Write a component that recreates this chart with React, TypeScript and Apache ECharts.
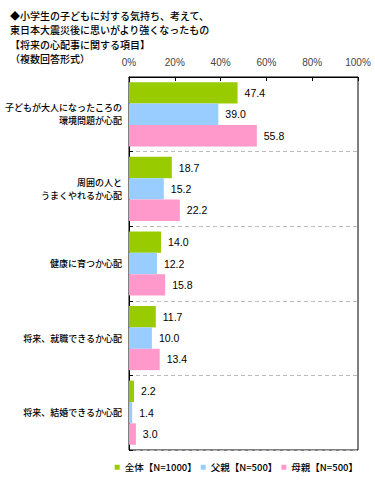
import React, { useEffect, useRef } from "react";
import * as echarts from "echarts";

const titleLines = [
  "◆小学生の子どもに対する気持ち、考えて、",
  "東日本大震災後に思いがより強くなったもの",
  "【将来の心配事に関する項目】",
  "（複数回答形式）",
];
const categories = [
  "子どもが大人になったころの\n環境問題が心配",
  "周囲の人と\nうまくやれるか心配",
  "健康に育つか心配",
  "将来、就職できるか心配",
  "将来、結婚できるか心配",
];
const seriesNames = ["全体【N=1000】", "父親【N=500】", "母親【N=500】"];
const allValues = [47.4, 18.7, 14.0, 11.7, 2.2];
const fatherValues = [39.0, 15.2, 12.2, 10.0, 1.4];
const motherValues = [55.8, 22.2, 15.8, 13.4, 3.0];
const colors = ["#99CC00", "#99CCFF", "#FF99CC"];

const FONT = '"Noto Sans CJK JP", "Noto Sans", sans-serif';

export default function App() {
  const ref = useRef<HTMLDivElement>(null);
  useEffect(() => {
    if (!ref.current) return;
    const chart = echarts.init(ref.current, null, { renderer: "svg" });
    const data = [allValues, fatherValues, motherValues];
    chart.setOption({
      animation: false,
      title: {
        text: titleLines.join("\n"),
        left: 5,
        top: 3,
        textStyle: {
          fontSize: 10,
          lineHeight: 14.5,
          fontWeight: 500,
          color: "#000",
          fontFamily: FONT,
        },
      },
      legend: {
        bottom: 12,
        right: 12,
        itemWidth: 5,
        itemHeight: 5,
        itemGap: 4,
        icon: "rect",
        textStyle: { fontSize: 9.5, color: "#000", fontFamily: FONT, fontWeight: 500 },
        data: seriesNames,
      },
      grid: {
        left: 129,
        right: 17,
        top: 77,
        bottom: 39,
        show: true,
        borderColor: "#000",
        borderWidth: 1,
        containLabel: false,
      },
      xAxis: {
        type: "value",
        position: "top",
        min: 0,
        max: 100,
        interval: 20,
        axisLine: { show: true, lineStyle: { color: "#000" } },
        axisTick: { show: true, inside: true, length: 4, lineStyle: { color: "#000" } },
        splitLine: { show: false },
        axisLabel: {
          formatter: "{value}%",
          fontSize: 10,
          color: "#444",
          margin: 10,
          fontFamily: "Liberation Sans, Arial, sans-serif",
        },
      },
      yAxis: {
        type: "category",
        inverse: true,
        data: categories,
        axisLine: { show: true, lineStyle: { color: "#000" } },
        axisTick: { show: true, inside: true, length: 4, lineStyle: { color: "#000" } },
        splitLine: { show: true, lineStyle: { color: "#bbb", type: [4, 3] } },
        axisLabel: {
          fontSize: 9,
          lineHeight: 13,
          color: "#000",
          fontWeight: 500,
          margin: 7,
          fontFamily: FONT,
        },
      },
      series: seriesNames.map((name, i) => ({
        name,
        type: "bar",
        data: data[i],
        barGap: "0%",
        barCategoryGap: "14%",
        itemStyle: { color: colors[i] },
        label: {
          show: true,
          position: "right",
          distance: 7,
          formatter: (p: any) => Number(p.value).toFixed(1),
          fontSize: 10.5,
          color: "#000",
          fontFamily: "Liberation Sans, Arial, sans-serif",
        },
      })),
    });
    return () => chart.dispose();
  }, []);
  return (
    <div
      ref={ref}
      style={{ position: "fixed", left: 0, top: 0, width: 375, height: 489, background: "#fff" }}
    />
  );
}
